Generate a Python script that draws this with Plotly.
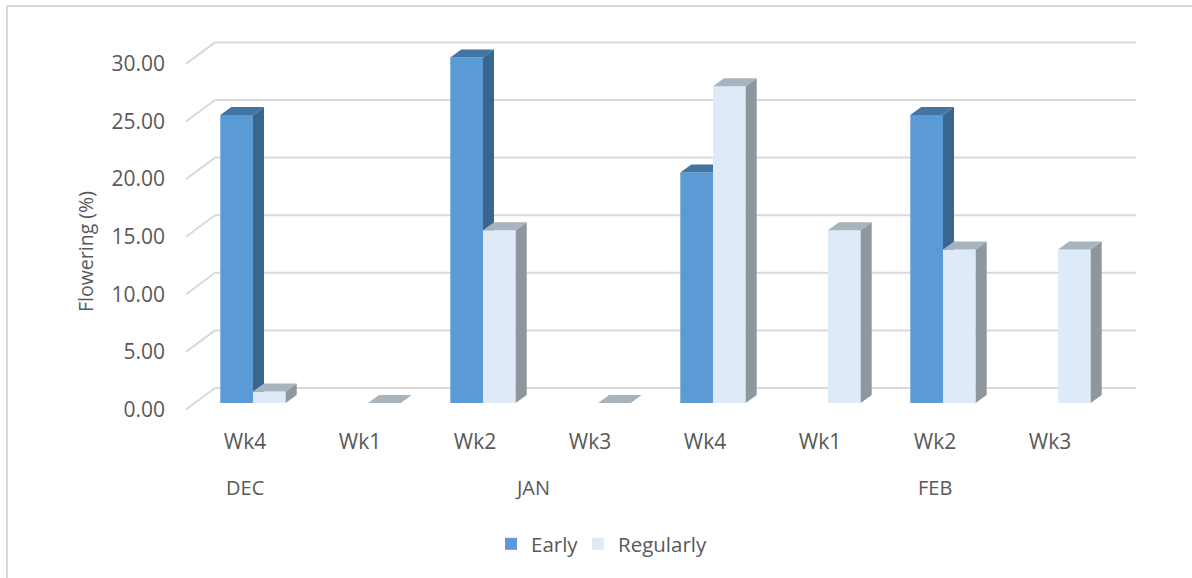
import plotly.graph_objects as go

# Flowering percentage per sampling week
weeks = ["Wk4", "Wk1", "Wk2", "Wk3", "Wk4", "Wk1", "Wk2", "Wk3"]
early = [25, None, 30, None, 20, None, 25, None]
regularly = [1, 0, 15, 0, 27.5, 15, 13.33, 13.33]
months = ["DEC", "JAN", "FEB"]
month_centres = [0, 2.5, 6]
y_ticks = [0, 5, 10, 15, 20, 25, 30]

# Chart geometry, in pixels of the 1192x578 page
W, H = 1192, 578
PX_PER_CAT = 115
PX_PER_UNIT = 11.52
BAR_CENTRE_PX, BASE_PX = 253, 403
LABEL_CENTRE_PX, LABEL_BASE_PX = 245, 409.5
BAR_W = 32.7 / PX_PER_CAT
DEPTH_X, DEPTH_Y = 11 / PX_PER_CAT, 8 / PX_PER_UNIT
FONT = "Open Sans"
TEXT = "#595959"
GRID = "#D9D9D9"

x_range = [-BAR_CENTRE_PX / PX_PER_CAT, (W - BAR_CENTRE_PX) / PX_PER_CAT]
y_range = [(BASE_PX - H) / PX_PER_UNIT, BASE_PX / PX_PER_UNIT]
x2_range = [-LABEL_CENTRE_PX / PX_PER_CAT, (W - LABEL_CENTRE_PX) / PX_PER_CAT]
y2_range = [(LABEL_BASE_PX - H) / PX_PER_UNIT, LABEL_BASE_PX / PX_PER_UNIT]


def polygons(faces):
    xs, ys = [], []
    for face in faces:
        xs += [p[0] for p in face] + [face[0][0], None]
        ys += [p[1] for p in face] + [face[0][1], None]
    return xs, ys


def early_faces():
    """Side and top of the left bars, trimmed where the right bar stands in front."""
    side, top = [], []
    for i, (v, r) in enumerate(zip(early, regularly)):
        if v is None:
            continue
        r = r or 0
        xl, xr = i - BAR_W, i
        if r >= v:
            top.append([(xl, v), (xl + DEPTH_X, v + DEPTH_Y), (xr, v + DEPTH_Y), (xr, v)])
            continue
        top.append([(xl, v), (xl + DEPTH_X, v + DEPTH_Y), (xr + DEPTH_X, v + DEPTH_Y), (xr, v)])
        low = (xr + DEPTH_X, r + DEPTH_Y if r == 0 else r)
        side.append([(xr, r), low, (xr + DEPTH_X, v + DEPTH_Y), (xr, v)])
    return side, top


def regular_faces():
    side, top = [], []
    for i, v in enumerate(regularly):
        xl, xr = i, i + BAR_W
        top.append([(xl, v), (xl + DEPTH_X, v + DEPTH_Y), (xr + DEPTH_X, v + DEPTH_Y), (xr, v)])
        side.append([(xr, 0), (xr + DEPTH_X, DEPTH_Y), (xr + DEPTH_X, v + DEPTH_Y), (xr, v)])
    return side, top


def face_trace(faces, colour):
    xs, ys = polygons(faces)
    return go.Scatter(x=xs, y=ys, mode="lines", fill="toself", fillcolor=colour,
                      line=dict(width=0), showlegend=False, hoverinfo="skip")


fig = go.Figure()
fig.add_bar(x=list(range(len(weeks))), y=early, name="Early", marker_color="#5B9BD5",
            marker_line_width=0, legend="legend")
fig.add_bar(x=list(range(len(weeks))), y=regularly, name="Regularly", marker_color="#DEEAF7",
            marker_line_width=0, legend="legend2")

e_side, e_top = early_faces()
r_side, r_top = regular_faces()
fig.add_trace(face_trace(e_side, "#39668F"))
fig.add_trace(face_trace(e_top, "#4275A3"))
fig.add_trace(face_trace(r_side, "#8E979E"))
fig.add_trace(face_trace(r_top, "#A7B4BE"))

# Invisible carrier that keeps the labelled axes on the page
fig.add_trace(go.Scatter(x=[0], y=[0], xaxis="x2", yaxis="y2", mode="markers",
                         marker=dict(opacity=0), showlegend=False, hoverinfo="skip"))

# Back wall gridlines with the short diagonal running to the front edge
WALL_RISE = 15 / PX_PER_UNIT
FRONT_DROP = 6.5 / PX_PER_UNIT
wall_start = (215 - BAR_CENTRE_PX) / PX_PER_CAT
wall_end = (1136 - BAR_CENTRE_PX) / PX_PER_CAT
front_start = (186 - BAR_CENTRE_PX) / PX_PER_CAT
for t in y_ticks:
    line = dict(color=GRID, width=2)
    fig.add_shape(type="line", layer="below", xref="x", yref="y", line=line,
                  x0=wall_start, x1=wall_end, y0=t + WALL_RISE, y1=t + WALL_RISE)
    fig.add_shape(type="line", layer="below", xref="x", yref="y", line=line,
                  x0=front_start, x1=wall_start, y0=t - FRONT_DROP, y1=t + WALL_RISE)

# Outer chart frame, open towards the right and bottom edges of the page
frame = dict(color=GRID, width=2)
fig.add_shape(type="line", xref="paper", yref="paper", line=frame,
              x0=7 / W, x1=7 / W, y0=0, y1=1 - 6 / H)
fig.add_shape(type="line", xref="paper", yref="paper", line=frame,
              x0=7 / W, x1=1, y0=1 - 6 / H, y1=1 - 6 / H)

for name, centre in zip(months, month_centres):
    fig.add_annotation(text=name, x=centre, xref="x2", y=1 - 487 / H, yref="paper",
                       xanchor="center", yanchor="middle", showarrow=False,
                       font=dict(family=FONT, size=20, color=TEXT))

fig.add_annotation(text="Flowering (%)", textangle=-90, x=85 / W, xref="paper",
                   y=1 - 252 / H, yref="paper", xanchor="center", yanchor="middle",
                   showarrow=False, font=dict(family=FONT, size=19.5, color=TEXT))

legend_style = dict(orientation="h", xanchor="left", y=1 - 544 / H, yanchor="middle",
                    font=dict(family=FONT, size=20.5, color=TEXT), bgcolor="rgba(0,0,0,0)")

fig.update_layout(
    width=W, height=H, margin=dict(l=0, r=0, t=0, b=0),
    paper_bgcolor="white", plot_bgcolor="rgba(0,0,0,0)",
    barmode="group", bargap=1 - 2 * BAR_W, bargroupgap=0,
    xaxis=dict(visible=False, range=x_range, domain=[0, 1], fixedrange=True),
    yaxis=dict(visible=False, range=y_range, domain=[0, 1], fixedrange=True),
    xaxis2=dict(overlaying="x", anchor="free", position=1 - 427 / H, range=x2_range,
                tickmode="array", tickvals=list(range(len(weeks))), ticktext=weeks,
                showgrid=False, zeroline=False, showline=False, ticks="",
                tickfont=dict(family=FONT, size=21, color=TEXT)),
    yaxis2=dict(overlaying="y", anchor="free", position=165 / W, range=y2_range,
                tickmode="array", tickvals=y_ticks, tickformat=".2f",
                showgrid=False, zeroline=False, showline=False, ticks="",
                tickfont=dict(family=FONT, size=21, color=TEXT)),
    legend=dict(x=491 / W, **legend_style),
    legend2=dict(x=578 / W, **legend_style),
)

fig.write_html("out.html")
